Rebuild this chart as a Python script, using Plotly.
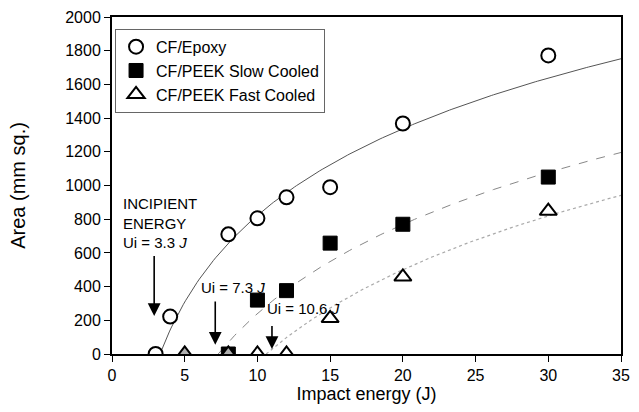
import numpy as np
import plotly.graph_objects as go

# ---- data ----
epoxy_x = [3, 4, 8, 10, 12, 15, 20, 30]
epoxy_y = [0, 222, 710, 805, 930, 990, 1368, 1772]

slow_x = [8, 10, 12, 15, 20, 30]
slow_y = [0, 320, 376, 658, 770, 1050]

fast_x = [5, 8, 10, 12, 15, 20, 30]
fast_y = [0, 0, 0, 0, 212, 458, 848]
fast_fill = ["#b0b0b0", "#b0b0b0", "white", "white", "white", "white", "white"]

# logarithmic trend lines: y = k * ln(x / Ui)
incipient = [3.3, 7.3, 10.6]
coeff = [742, 763, 788]
fit_styles = [("#555555", "solid", 1), ("#888888", "dash", 1), ("#aaaaaa", "dot", 1.2)]

x_ticks = [0, 5, 10, 15, 20, 25, 30, 35]
y_ticks = list(range(0, 2001, 200))

FONT = "Liberation Sans, Arial, sans-serif"

fig = go.Figure()

for ui, k, (col, dash, w) in zip(incipient, coeff, fit_styles):
    xs = np.linspace(ui, 35, 200)
    fig.add_trace(go.Scatter(x=xs, y=k * np.log(xs / ui), mode="lines",
                             line=dict(color=col, dash=dash, width=w),
                             showlegend=False, hoverinfo="skip"))

fig.add_trace(go.Scatter(x=epoxy_x, y=epoxy_y, mode="markers", name="CF/Epoxy",
                         marker=dict(symbol="circle", size=14, color="white",
                                     line=dict(color="black", width=2))))
fig.add_trace(go.Scatter(x=slow_x, y=slow_y, mode="markers", name="CF/PEEK Slow Cooled",
                         marker=dict(symbol="square", size=14, color="black",
                                     line=dict(color="black", width=1))))
fig.add_trace(go.Scatter(x=fast_x, y=fast_y, mode="markers", name="CF/PEEK Fast Cooled",
                         showlegend=False,
                         marker=dict(symbol="triangle-up", size=15, color=fast_fill,
                                     line=dict(color="black", width=2))))
fig.add_trace(go.Scatter(x=[None], y=[None], mode="markers", name="CF/PEEK Fast Cooled",
                         marker=dict(symbol="triangle-up", size=15, color="white",
                                     line=dict(color="black", width=2))))

# annotations with arrows
arrow = dict(showarrow=True, arrowhead=2, arrowsize=1.6, arrowwidth=1.6, arrowcolor="black",
             axref="x", ayref="y", xref="x", yref="y", text="")
fig.add_annotation(x=2.9, y=225, ax=2.9, ay=590, **arrow)
fig.add_annotation(x=7.1, y=55, ax=7.1, ay=320, **arrow)
fig.add_annotation(x=11.0, y=30, ax=11.0, ay=175, **arrow)

txt = dict(showarrow=False, xref="x", yref="y", font=dict(family=FONT, size=15, color="black"),
           xanchor="left", yanchor="bottom", align="left")
fig.add_annotation(x=0.6, y=600, text="INCIPIENT<br>ENERGY<br>Ui = 3.3 <i>J</i>", **txt)
fig.add_annotation(x=6.0, y=335, text="Ui = 7.3 <i>J</i>", **txt)
fig.add_annotation(x=10.5, y=205, text="Ui = 10.6 <i>J</i>", **txt)

axis_common = dict(showline=True, linecolor="black", linewidth=2, mirror=True,
                   ticks="outside", ticklen=6, tickcolor="black", showgrid=False,
                   zeroline=False, tickfont=dict(family=FONT, size=16, color="black"))

fig.update_layout(
    width=639, height=412,
    margin=dict(l=112, r=9, t=16, b=58),
    paper_bgcolor="white", plot_bgcolor="white",
    font=dict(family=FONT, color="black"),
    xaxis=dict(range=[0, 35], tickvals=x_ticks,
               title=dict(text="Impact energy (J)", font=dict(family=FONT, size=18), standoff=2),
               **axis_common),
    yaxis=dict(range=[0, 2000], tickvals=y_ticks,
               title=dict(text="Area (mm sq.)", font=dict(family=FONT, size=20), standoff=34),
               **axis_common),
    legend=dict(x=0.006, y=0.965, xanchor="left", yanchor="top",
                bgcolor="white", bordercolor="#666666", borderwidth=1,
                font=dict(family=FONT, size=16), itemwidth=30, tracegroupgap=2),
    showlegend=True,
)

fig.write_html("out.html")
